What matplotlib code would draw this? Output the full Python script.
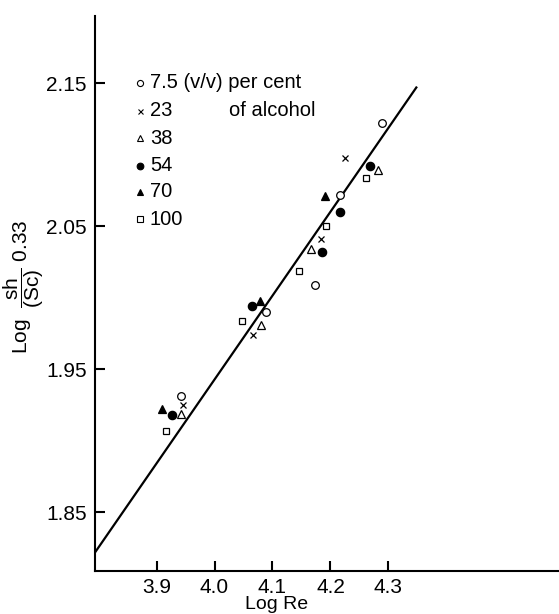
import matplotlib
matplotlib.use("Agg")
import matplotlib.pyplot as plt

plt.rcParams['font.family'] = ['Liberation Sans', 'DejaVu Sans']
plt.rcParams['mathtext.fontset'] = 'custom'
plt.rcParams['mathtext.rm'] = 'Liberation Sans'

# data (Log Re, Log Sh/Sc^0.33)
c75_x = [3.943, 4.088, 4.173, 4.217, 4.289]
c75_y = [1.931, 1.990, 2.009, 2.072, 2.122]
c23_x = [3.945, 4.067, 4.183, 4.225]
c23_y = [1.925, 1.974, 2.041, 2.098]
c38_x = [3.943, 4.081, 4.166, 4.282]
c38_y = [1.919, 1.981, 2.034, 2.089]
c54_x = [3.927, 4.064, 4.186, 4.217, 4.268]
c54_y = [1.918, 1.994, 2.032, 2.060, 2.092]
c70_x = [3.909, 4.078, 4.190]
c70_y = [1.922, 1.998, 2.071]
c100_x = [3.917, 4.048, 4.146, 4.193, 4.261]
c100_y = [1.907, 1.984, 2.019, 2.050, 2.084]

# fitted line
line_x = [3.794, 4.348]
line_y = [1.822, 2.147]

labels = ['7.5 (v/v) per cent', '23', '38', '54', '70', '100']
xticks = [3.9, 4.0, 4.1, 4.2, 4.3]
yticks = [1.85, 1.95, 2.05, 2.15]

fig = plt.figure(figsize=(5.59, 6.14), dpi=100)
ax = fig.add_axes([0.170, 0.070, 0.830, 0.904])

ax.plot(line_x, line_y, color='black', lw=1.6)

series = [
    (c75_x, c75_y, dict(marker='o', mfc='white', ms=5.5)),
    (c23_x, c23_y, dict(marker='x', mfc='black', ms=4.5)),
    (c38_x, c38_y, dict(marker='^', mfc='white', ms=6)),
    (c54_x, c54_y, dict(marker='o', mfc='black', ms=6)),
    (c70_x, c70_y, dict(marker='^', mfc='black', ms=6)),
    (c100_x, c100_y, dict(marker='s', mfc='white', ms=5)),
]
for xs, ys, st in series:
    ax.plot(xs, ys, ls='none', mec='black', mew=0.9, **st)

# hand-made legend
leg_y = [0.880, 0.829, 0.780, 0.730, 0.683, 0.634]
for (xs, ys, st), lab, ly in zip(series, labels, leg_y):
    st2 = dict(st)
    st2['ms'] = st['ms'] * 0.8
    ax.plot([0.096], [ly], ls='none', mec='black', mew=0.8,
            transform=ax.transAxes, clip_on=False, **st2)
    ax.text(0.118, ly, lab, transform=ax.transAxes, ha='left', va='center',
            fontsize=14.5)
ax.text(0.288, 0.829, 'of alcohol', transform=ax.transAxes, ha='left',
        va='center', fontsize=14.5)

ax.set_xlim(3.794, 4.594)
ax.set_ylim(1.809, 2.197)
ax.set_xticks(xticks)
ax.set_xticklabels(['%.1f' % v for v in xticks])
ax.set_yticks(yticks)
ax.set_yticklabels(['%.2f' % v for v in yticks])
ax.tick_params(direction='in', length=7, width=1.5, labelsize=15)
ax.tick_params(axis='x', pad=5)
ax.tick_params(axis='y', pad=6)

for s in ['top', 'right']:
    ax.spines[s].set_visible(False)
for s in ['left', 'bottom']:
    ax.spines[s].set_linewidth(1.5)

ax.text(0.392, -0.0755, 'Log Re', transform=ax.transAxes, ha='center',
        va='bottom', fontsize=14)
ax.text(-0.153, 0.513, r'Log $\;\dfrac{\mathrm{sh}}{\mathrm{(Sc)}}\;$0.33',
        transform=ax.transAxes, ha='center', va='center', rotation=90,
        fontsize=15)

fig.savefig('out.png', dpi=100)
